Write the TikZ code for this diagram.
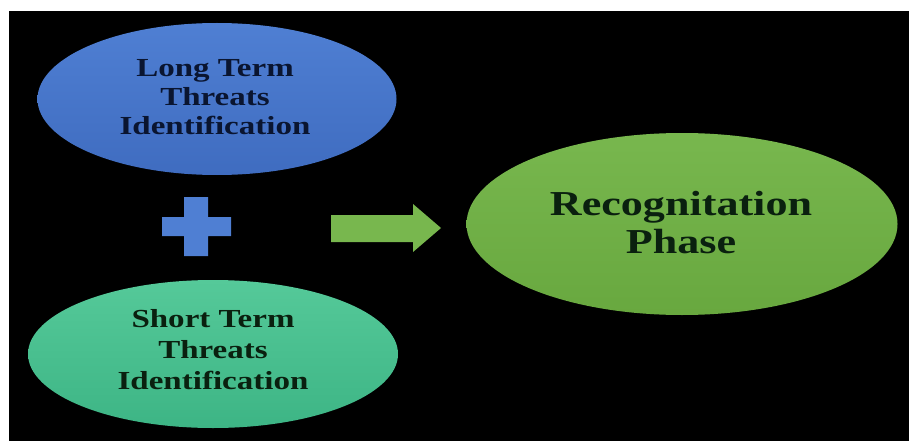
\documentclass[tikz,border=0pt]{standalone}
\usepackage{fontspec}
\setmainfont{Liberation Serif}
\newfontfamily\widesmall[FakeStretch=1.27]{Liberation Serif}
\newfontfamily\widebig[FakeStretch=1.26]{Liberation Serif}
\usetikzlibrary{shapes.geometric}
\definecolor{bluetop}{HTML}{4F7FD3}
\definecolor{bluebot}{HTML}{3F6CC0}
\definecolor{tealtop}{HTML}{55C999}
\definecolor{tealbot}{HTML}{3DB585}
\definecolor{greentop}{HTML}{78B74E}
\definecolor{greenbot}{HTML}{68A83F}
\definecolor{navytext}{HTML}{0A1530}
\definecolor{greentext}{HTML}{0A200F}
\tikzset{
  oval/.style={ellipse, inner sep=0pt},
  smalltext/.style={align=center, inner sep=0pt, font=\widesmall\bfseries\fontsize{26}{29}\selectfont},
  smalltextb/.style={align=center, inner sep=0pt, font=\widesmall\bfseries\fontsize{26}{31}\selectfont},
  bigtext/.style={align=center, inner sep=0pt, font=\widebig\bfseries\fontsize{35}{38}\selectfont},
}
\begin{document}
\begin{tikzpicture}[x=1pt,y=-1pt]
\useasboundingbox (0,0) rectangle (909,441);
\fill[white] (0,0) rectangle (909,441);
\fill[black] (9,11) rectangle (909,441);
% ellipses
\node[oval, minimum width=359pt, minimum height=152pt, top color=bluetop, bottom color=bluebot] (lt) at (217,99) {};
\node[smalltext, text=navytext] (ltt) at (215,97.5) {Long Term\\Threats\\Identification};
\node[oval, minimum width=370pt, minimum height=148pt, top color=tealtop, bottom color=tealbot] (st) at (213,354) {};
\node[smalltextb, text=greentext] (stt) at (213,350) {Short Term\\Threats\\Identification};
\node[oval, minimum width=431pt, minimum height=182pt, top color=greentop, bottom color=greenbot] (rp) at (682,224) {};
\node[bigtext, text=greentext] (rpt) at (681,222.5) {Recognitation\\Phase};
% plus sign
\fill[bluetop] (184,197) -- (208,197) -- (208,217) -- (231,217) -- (231,236) -- (208,236) -- (208,256) -- (184,256) -- (184,236) -- (162,236) -- (162,217) -- (184,217) -- cycle;
% arrow
\fill[greentop] (331,215) -- (413,215) -- (413,204) -- (441,228) -- (413,252) -- (413,242) -- (331,242) -- cycle;
\end{tikzpicture}
\end{document}
